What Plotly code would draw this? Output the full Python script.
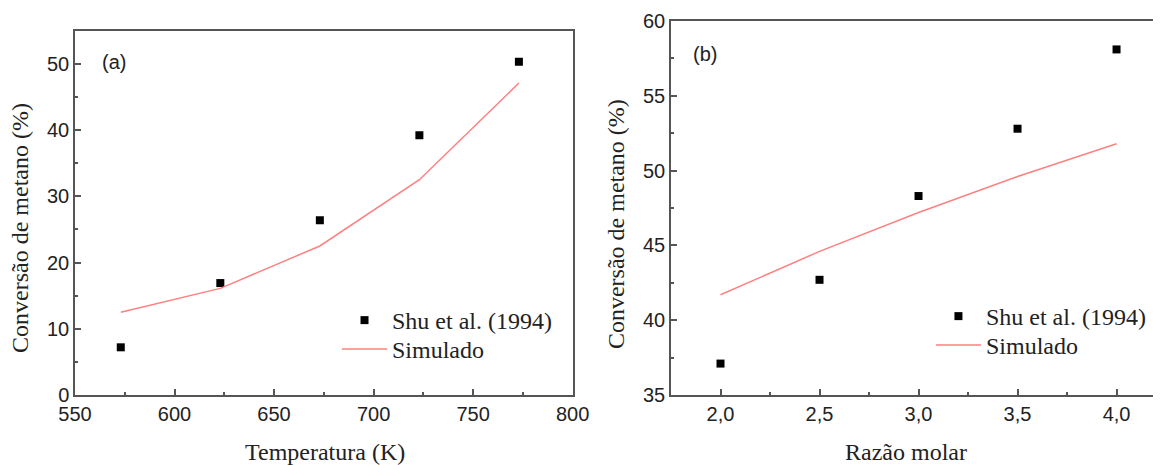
import plotly.graph_objects as go

# Panel (a): temperature
temp_k = [573, 623, 673, 723, 773]
conv_exp_a = [7.2, 16.9, 26.4, 39.2, 50.3]
conv_sim_a = [12.5, 16.1, 22.5, 32.5, 47.1]

# Panel (b): molar ratio
razao = [2.0, 2.5, 3.0, 3.5, 4.0]
conv_exp_b = [37.1, 42.7, 48.3, 52.8, 58.1]
conv_sim_b = [41.7, 44.6, 47.2, 49.6, 51.8]

exp_name = "Shu et al. (1994)"
sim_name = "Simulado"

SERIF = "Liberation Serif"
SANS = "Liberation Sans"
AX = "#555555"
RED = "#ff8080"
TXT = "#222222"

fig = go.Figure()
fig.add_trace(go.Scatter(x=temp_k, y=conv_exp_a, mode="markers", name=exp_name,
                         marker=dict(symbol="square", size=8, color="black"), showlegend=True,
                         xaxis="x", yaxis="y", legend="legend"))
fig.add_trace(go.Scatter(x=temp_k, y=conv_sim_a, mode="lines", name=sim_name,
                         line=dict(color=RED, width=1.5), showlegend=True,
                         xaxis="x", yaxis="y", legend="legend2"))
fig.add_trace(go.Scatter(x=razao, y=conv_exp_b, mode="markers", name=exp_name,
                         marker=dict(symbol="square", size=8, color="black"), showlegend=True,
                         xaxis="x2", yaxis="y2", legend="legend3"))
fig.add_trace(go.Scatter(x=razao, y=conv_sim_b, mode="lines", name=sim_name,
                         line=dict(color=RED, width=1.5), showlegend=True,
                         xaxis="x2", yaxis="y2", legend="legend4"))

common = dict(showgrid=False, zeroline=False, ticks="inside", ticklen=6, tickwidth=1.5,
              tickcolor=AX, linecolor=AX, linewidth=1.5, showline=True, automargin=False,
              tickfont=dict(family=SANS, size=20, color=TXT))


def leg(x, y):
    return dict(x=x, y=y, xanchor="left", yanchor="top", bgcolor="rgba(0,0,0,0)",
                font=dict(family=SERIF, size=24, color=TXT), itemwidth=45)


fig.update_layout(
    width=1161, height=465,
    showlegend=True,
    margin=dict(l=67, r=0, t=13, b=78, autoexpand=False),
    paper_bgcolor="white", plot_bgcolor="white",
    separators=",.",
    xaxis=dict(domain=[0, 0.4549], range=[550, 800], tick0=550, dtick=50, mirror=True,
               anchor="y",
               minor=dict(ticks="inside", ticklen=3, dtick=25, tick0=550, tickcolor=AX, tickwidth=1.5),
               **common),
    yaxis=dict(domain=[0, 0.974], range=[0, 55], tick0=0, dtick=10, mirror=True, anchor="x",
               minor=dict(ticks="inside", ticklen=3, dtick=5, tick0=0, tickcolor=AX, tickwidth=1.5),
               **common),
    xaxis2=dict(domain=[0.5448, 0.9973], range=[1.75, 4.25], tick0=2, dtick=0.5, tickformat=".1f",
                mirror=True, anchor="y2",
                minor=dict(ticks="inside", ticklen=3, dtick=0.25, tick0=2, tickcolor=AX, tickwidth=1.5),
                **common),
    yaxis2=dict(domain=[0, 1], range=[35, 60], tick0=35, dtick=5, mirror=True, anchor="x2",
                minor=dict(ticks="inside", ticklen=3, dtick=2.5, tick0=35, tickcolor=AX, tickwidth=1.5),
                **common),
    legend=leg(0.2395, 0.2593),
    legend2=leg(0.2395, 0.1818),
    legend3=leg(0.7824, 0.270),
    legend4=leg(0.7824, 0.1925),
    annotations=[
        dict(text="Temperatura (K)", xref="paper", yref="paper", x=0.2285, y=-0.1524,
             showarrow=False, font=dict(family=SERIF, size=24, color=TXT),
             xanchor="center", yanchor="middle"),
        dict(text="Razão molar", xref="paper", yref="paper", x=0.7596, y=-0.1524,
             showarrow=False, font=dict(family=SERIF, size=24, color=TXT),
             xanchor="center", yanchor="middle"),
        dict(text="Conversão de metano (%)", xref="paper", yref="paper", x=-0.0503, y=0.4465,
             textangle=-90, showarrow=False, font=dict(family=SERIF, size=24, color=TXT),
             xanchor="center", yanchor="middle"),
        dict(text="Conversão de metano (%)", xref="paper", yref="paper", x=0.4945, y=0.457,
             textangle=-90, showarrow=False, font=dict(family=SERIF, size=24, color=TXT),
             xanchor="center", yanchor="middle"),
        dict(text="(a)", xref="paper", yref="paper", x=0.0361, y=0.890, showarrow=False,
             font=dict(family=SANS, size=20, color=TXT), xanchor="center", yanchor="middle"),
        dict(text="(b)", xref="paper", yref="paper", x=0.5759, y=0.912, showarrow=False,
             font=dict(family=SANS, size=20, color=TXT), xanchor="center", yanchor="middle"),
    ],
)

fig.write_html("out.html")
